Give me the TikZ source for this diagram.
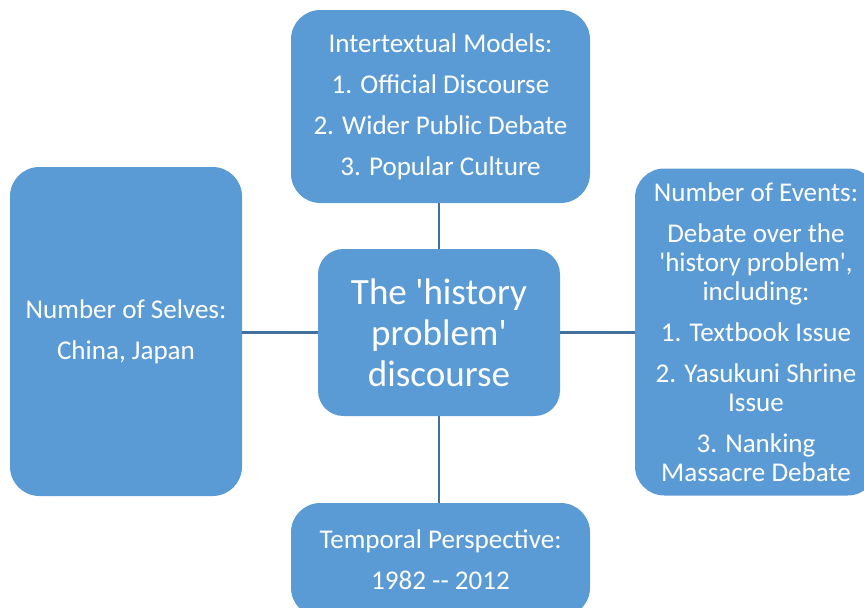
\documentclass[tikz,border=0pt]{standalone}
\usepackage{fontspec}
% plain Carlito, without TeX ligatures, so quotes and hyphens stay straight
\newfontfamily\boxfont{Carlito}
\definecolor{boxblue}{HTML}{5B9BD5}
\definecolor{linkblue}{HTML}{41719C}
\begin{document}
\begin{tikzpicture}[x=0.75pt,y=-0.75pt,
  box/.style={fill=boxblue, draw=none, rounded corners=22pt, text=white,
    align=center, inner sep=0pt,
    font=\boxfont\fontsize{20.3}{21.75}\selectfont},
  link/.style={draw=linkblue, line width=1.9pt}]
\useasboundingbox (0,0) rectangle (864,607);
\clip (0,0) rectangle (864,607);

% surrounding boxes
\node[box, minimum width=299*0.75pt, minimum height=193*0.75pt] (models) at (440.5,106.5)
  {Intertextual Models:\\[9pt]1. Official Discourse\\[9pt]2. Wider Public Debate\\[9pt]3. Popular Culture};
\node[box, minimum width=232*0.75pt, minimum height=329*0.75pt] (selves) at (126,331.5)
  {Number of Selves:\\[9pt]China, Japan};
\node[box, minimum width=242*0.75pt, minimum height=327*0.75pt] (events) at (756,332)
  {Number of Events:\\[9pt]Debate over the\\'history problem',\\including:\\[9pt]1. Textbook Issue\\[9pt]2. Yasukuni Shrine\\Issue\\[9pt]3. Nanking\\Massacre Debate};
\node[box, minimum width=299*0.75pt, minimum height=114*0.75pt] (period) at (440.5,560)
  {Temporal Perspective:\\[9pt]1982 -- 2012};

% central box
\node[box, rounded corners=19pt, minimum width=242*0.75pt, minimum height=167*0.75pt,
  font=\boxfont\fontsize{27.8}{30.75}\selectfont] (core) at (439,332.5)
  {The 'history\\problem'\\discourse};

% connectors
\draw[link] (core.north) -- (core.north |- models.south);
\draw[link] (core.south) -- (core.south |- period.north);
\draw[link] (core.west) -- (core.west -| selves.east);
\draw[link] (core.east) -- (core.east -| events.west);
\end{tikzpicture}
\end{document}
